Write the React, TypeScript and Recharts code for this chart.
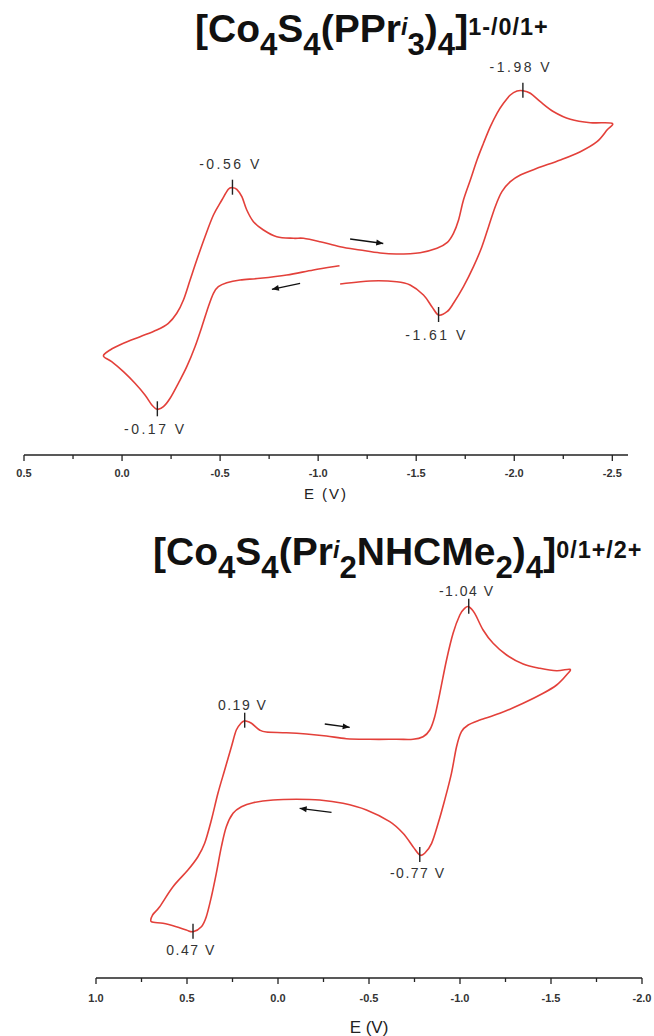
import { ComposedChart, Line, Scatter, XAxis, YAxis } from 'recharts';

const FONT = '"Liberation Sans", Arial, Helvetica, sans-serif';
const RED = '#e3403a';

// ---- top CV: [Co4S4(PPri3)4] 1-/0/1+  (E in V, current in arbitrary units)
const topE = [
  -1.109, -0.976, -0.84, -0.704, -0.602, -0.534, -0.491, -0.466, -0.44, -0.407, -0.372, -0.33, -0.287,
  -0.245, -0.211, -0.18, -0.152, -0.117, -0.066, -0.007, 0.053, 0.095, 0.061, -0.007, -0.092, -0.177,
  -0.236, -0.279, -0.313, -0.347, -0.381, -0.423, -0.466, -0.509, -0.542, -0.563, -0.585, -0.611, -0.636,
  -0.67, -0.721, -0.789, -0.874, -0.925, -1.01, -1.112, -1.214, -1.316, -1.401, -1.52, -1.606, -1.657,
  -1.69, -1.716, -1.741, -1.776, -1.81, -1.843, -1.878, -1.912, -1.945, -1.98, -2.014, -2.044, -2.082,
  -2.133, -2.201, -2.286, -2.388, -2.498, -2.473, -2.422, -2.337, -2.235, -2.116, -2.031, -1.98, -1.937,
  -1.903, -1.869, -1.835, -1.792, -1.741, -1.69, -1.657, -1.614, -1.58, -1.537, -1.469, -1.401, -1.265,
  -1.112,
];
const topI = [
  189.3, 185, 180, 176.7, 175, 172.3, 168.3, 161.7, 148.3, 128.3, 108.3, 88.3, 71.7, 56.7, 48.3, 45.7,
  50, 60, 71.7, 83.3, 93.3, 99, 105, 111.7, 118.3, 125, 131.7, 141.7, 155, 175, 195, 218.3, 240, 255,
  265.7, 267.3, 265.7, 258.3, 245, 233.3, 225, 218.3, 216.7, 216.7, 213.3, 208.3, 205, 202, 201, 202.3,
  206.7, 212.3, 221.7, 235, 255, 275, 295, 311.7, 328.3, 341.7, 351.7, 360, 364, 364.3, 361.7, 353.3,
  343.3, 335.7, 332.3, 331.7, 325, 313.3, 303.3, 295, 286.7, 280, 273.3, 263.3, 248.3, 228.3, 208.3,
  188.3, 168.3, 151.7, 143.3, 140, 148.3, 160, 170, 173.3, 174, 171,
];
const topUpperPeaks = [
  { e: -0.563, i: 267.3, label: '-0.56 V' },
  { e: -2.044, i: 364.3, label: '-1.98 V' },
];
const topLowerPeaks = [
  { e: -0.18, i: 45.7, label: '-0.17 V' },
  { e: -1.614, i: 140, label: '-1.61 V' },
];
const topArrowFwd = [{ e: -1.163, i: 216 }, { e: -1.332, i: 211.5 }];
const topArrowRev = [{ e: -0.908, i: 171.7 }, { e: -0.764, i: 165.7 }];
const topMajor = [0.5, 0.0, -0.5, -1.0, -1.5, -2.0, -2.5];
const topMinor = [0.25, -0.25, -0.75, -1.25, -1.75, -2.25];

// ---- bottom CV: [Co4S4(Pri2NHCMe2)4] 0/1+/2+
const botE = [
  0.183, 0.146, 0.101, 0.064, -0.046, -0.156, -0.266, -0.376, -0.504, -0.651, -0.742, -0.797, -0.834,
  -0.861, -0.889, -0.926, -0.962, -0.999, -1.026, -1.048, -1.081, -1.127, -1.182, -1.256, -1.347, -1.439,
  -1.531, -1.604, -1.585, -1.531, -1.457, -1.347, -1.219, -1.109, -1.045, -1.008, -0.981, -0.953, -0.916,
  -0.88, -0.844, -0.806, -0.779, -0.742, -0.687, -0.614, -0.486, -0.357, -0.229, -0.101, 0.027, 0.137,
  0.201, 0.247, 0.284, 0.311, 0.339, 0.366, 0.394, 0.421, 0.467, 0.504, 0.559, 0.632, 0.696, 0.689, 0.65,
  0.577, 0.495, 0.44, 0.403, 0.366, 0.33, 0.293, 0.256, 0.229, 0.201, 0.183,
];
const botI = [
  257.3, 254.7, 248, 246, 245.3, 244, 242, 239.3, 238.7, 238.7, 238.7, 241.3, 248, 261.3, 284.7, 318,
  344.7, 363, 369.7, 371.3, 364.7, 348, 334.7, 323, 314, 309.7, 307.3, 308.7, 303, 293, 284.7, 274.7,
  264.7, 258, 253, 246.3, 231.3, 204.7, 178, 154.7, 134.7, 124.7, 123, 131.3, 144.7, 156.3, 168, 174.7,
  178, 178.7, 178, 175.3, 171.3, 164.7, 151.3, 131.3, 104.7, 81.3, 61.3, 51.3, 46.3, 48, 51.3, 54.7, 56.3,
  63, 71.3, 91.3, 108, 121.3, 134.7, 158, 184.7, 208, 231.3, 248, 255.3, 257.3,
];
const botUpperPeaks = [
  { e: 0.183, i: 257.3, label: '0.19 V' },
  { e: -1.048, i: 371.3, label: '-1.04 V' },
];
const botLowerPeaks = [
  { e: -0.779, i: 123, label: '-0.77 V' },
  { e: 0.467, i: 46.3, label: '0.47 V' },
];
const botArrowFwd = [{ e: -0.257, i: 254 }, { e: -0.394, i: 250.7 }];
const botArrowRev = [{ e: -0.294, i: 165.7 }, { e: -0.119, i: 169.7 }];
const botMajor = [1.0, 0.5, 0.0, -0.5, -1.0, -1.5, -2.0];
const botMinor = [0.75, 0.25, -0.25, -0.75, -1.25, -1.75];

const zip = (es: number[], is: number[]) => es.map((e, k) => ({ e, i: is[k] }));
const topCurve = zip(topE, topI);
const botCurve = zip(botE, botI);

const fmt = (v: number) => (Math.abs(v) < 1e-9 ? '0.0' : v.toFixed(1));

// catmull-rom through the points, so the peaks stay on the trace
const smoothCurve = (context: any) => {
  let pts: number[][] = [];
  return {
    areaStart() {},
    areaEnd() {},
    lineStart() {
      pts = [];
    },
    point(x: number, y: number) {
      pts.push([+x, +y]);
    },
    lineEnd() {
      const n = pts.length;
      if (!n) return;
      context.moveTo(pts[0][0], pts[0][1]);
      for (let k = 0; k < n - 1; k++) {
        const p0 = pts[Math.max(k - 1, 0)];
        const p1 = pts[k];
        const p2 = pts[k + 1];
        const p3 = pts[Math.min(k + 2, n - 1)];
        context.bezierCurveTo(
          p1[0] + (p2[0] - p0[0]) / 6,
          p1[1] + (p2[1] - p0[1]) / 6,
          p2[0] - (p3[0] - p1[0]) / 6,
          p2[1] - (p3[1] - p1[1]) / 6,
          p2[0],
          p2[1],
        );
      }
    },
  };
};

const AxisTick = (props: any) => {
  const { x, y, payload, majors, labelDy } = props;
  const v = payload.value;
  const major = majors.some((m: number) => Math.abs(m - v) < 1e-6);
  return (
    <g>
      <line x1={x} x2={x} y1={y} y2={y + (major ? 6 : 4)} stroke="#222" strokeWidth={1.3} />
      {major && (
        <text x={x} y={y + labelDy} textAnchor="middle" fontSize={11} fontWeight="bold" fill="#333" fontFamily={FONT}>
          {fmt(v)}
        </text>
      )}
    </g>
  );
};

const PeakMark = (props: any) => {
  const { cx, cy, payload, above, dyAbove, dyBelow, spacing } = props;
  if (cx == null || cy == null) return <g />;
  return (
    <g>
      <line x1={cx} x2={cx} y1={cy - 8} y2={cy + 7} stroke="#222" strokeWidth={1.4} />
      <text
        x={cx - 2}
        y={above ? cy - dyAbove : cy + dyBelow}
        textAnchor="middle"
        fontSize={14}
        letterSpacing={spacing}
        fill="#333"
        fontFamily={FONT}
      >
        {payload.label}
      </text>
    </g>
  );
};

const arrowHead = (props: any) => {
  const { cx, cy, index, points, payload } = props;
  if (index !== 1 || cx == null) return <g key={`n${index}`} />;
  let a = 0;
  if (points && points.length > 1) a = Math.atan2(cy - points[0].y, cx - points[0].x);
  else a = payload && payload.dir < 0 ? Math.PI : 0;
  const L = 7;
  const W = 3;
  const bx = cx - L * Math.cos(a);
  const by = cy - L * Math.sin(a);
  const p2 = `${bx + W * Math.sin(a)},${by - W * Math.cos(a)}`;
  const p3 = `${bx - W * Math.sin(a)},${by + W * Math.cos(a)}`;
  return <polygon key={`h${index}`} points={`${cx},${cy} ${p2} ${p3}`} fill="#111" />;
};

const CV = (p: any) => (
  <ComposedChart width={654} height={p.height} margin={p.margin}>
    <XAxis
      type="number"
      dataKey="e"
      domain={p.domain}
      reversed
      allowDataOverflow
      ticks={[...p.majors, ...p.minors].sort((a: number, b: number) => b - a)}
      interval={0}
      tickLine={false}
      tickSize={0}
      tickMargin={0}
      height={p.axisHeight}
      axisLine={{ stroke: '#222', strokeWidth: 1.6 }}
      tick={(t: any) => <AxisTick {...t} majors={p.majors} labelDy={p.tickDy} />}
      label={{
        value: 'E (V)',
        position: 'insideBottom',
        offset: p.labelOffset,
        fill: '#222',
        fontSize: p.labelSize,
        fontFamily: FONT,
        letterSpacing: p.labelSpacing,
      }}
    />
    <YAxis type="number" dataKey="i" domain={[0, 400]} hide allowDataOverflow />
    <Line data={p.curve} dataKey="i" type={smoothCurve as any} stroke={RED} strokeWidth={1.6} dot={false} isAnimationActive={false} />
    <Line data={p.arrowFwd} dataKey="i" stroke="#111" strokeWidth={1.3} dot={arrowHead} isAnimationActive={false} />
    <Line data={p.arrowRev} dataKey="i" stroke="#111" strokeWidth={1.3} dot={arrowHead} isAnimationActive={false} />
    <Scatter
      data={p.upper}
      dataKey="i"
      isAnimationActive={false}
      shape={(s: any) => <PeakMark {...s} above dyAbove={p.dyAbove} spacing={p.spacing} />}
    />
    <Scatter
      data={p.lower}
      dataKey="i"
      isAnimationActive={false}
      shape={(s: any) => <PeakMark {...s} above={false} dyBelow={p.dyBelow} spacing={p.spacing} />}
    />
  </ComposedChart>
);

const Sub = ({ children }: any) => (
  <span style={{ fontSize: '0.8em', position: 'relative', top: '0.42em' }}>{children}</span>
);
const Sup = ({ children, spacing = 0 }: any) => (
  <span style={{ fontSize: '0.6em', position: 'relative', top: '-0.29em', letterSpacing: spacing }}>{children}</span>
);

const titleStyle = {
  position: 'absolute' as const,
  fontSize: 39,
  fontWeight: 'bold' as const,
  lineHeight: '39px',
  color: '#111',
  whiteSpace: 'nowrap' as const,
  fontFamily: FONT,
};

export default function App() {
  return (
    <div
      style={{
        position: 'absolute',
        left: 0,
        top: 0,
        width: 654,
        height: 1036,
        background: '#fff',
        overflow: 'hidden',
        fontFamily: FONT,
      }}
    >
      <div style={{ position: 'absolute', left: 0, top: 0 }}>
        <CV
          height={520}
          margin={{ top: 55, right: 26, bottom: 5, left: 24 }}
          domain={[-2.58, 0.5]}
          majors={topMajor}
          minors={topMinor}
          axisHeight={60}
          tickDy={22}
          labelOffset={16}
          labelSize={15}
          labelSpacing={2}
          curve={topCurve}
          arrowFwd={topArrowFwd}
          arrowRev={topArrowRev}
          upper={topUpperPeaks}
          lower={topLowerPeaks}
          dyAbove={19}
          dyBelow={25}
          spacing={2.5}
        />
      </div>
      <div style={{ position: 'absolute', left: 0, top: 520 }}>
        <CV
          height={516}
          margin={{ top: 58, right: 12, bottom: 2, left: 96 }}
          domain={[-2.0, 1.0]}
          majors={botMajor}
          minors={botMinor}
          axisHeight={56}
          tickDy={24}
          labelOffset={1}
          labelSize={17}
          labelSpacing={0}
          curve={botCurve}
          arrowFwd={botArrowFwd}
          arrowRev={botArrowRev}
          upper={botUpperPeaks}
          lower={botLowerPeaks}
          dyAbove={11}
          dyBelow={23}
          spacing={1.5}
        />
      </div>
      <div style={{ ...titleStyle, left: 195, top: 9 }}>
        [Co<Sub>4</Sub>S<Sub>4</Sub>(PPr<Sup><i>i</i></Sup><Sub>3</Sub>)<Sub>4</Sub>]<Sup spacing={1}>1-/0/1+</Sup>
      </div>
      <div style={{ ...titleStyle, left: 153, top: 532 }}>
        [Co<Sub>4</Sub>S<Sub>4</Sub>(Pr<Sup><i>i</i></Sup><Sub>2</Sub>NHCMe<Sub>2</Sub>)<Sub>4</Sub>]<Sup spacing={1}>0/1+/2+</Sup>
      </div>
    </div>
  );
}
